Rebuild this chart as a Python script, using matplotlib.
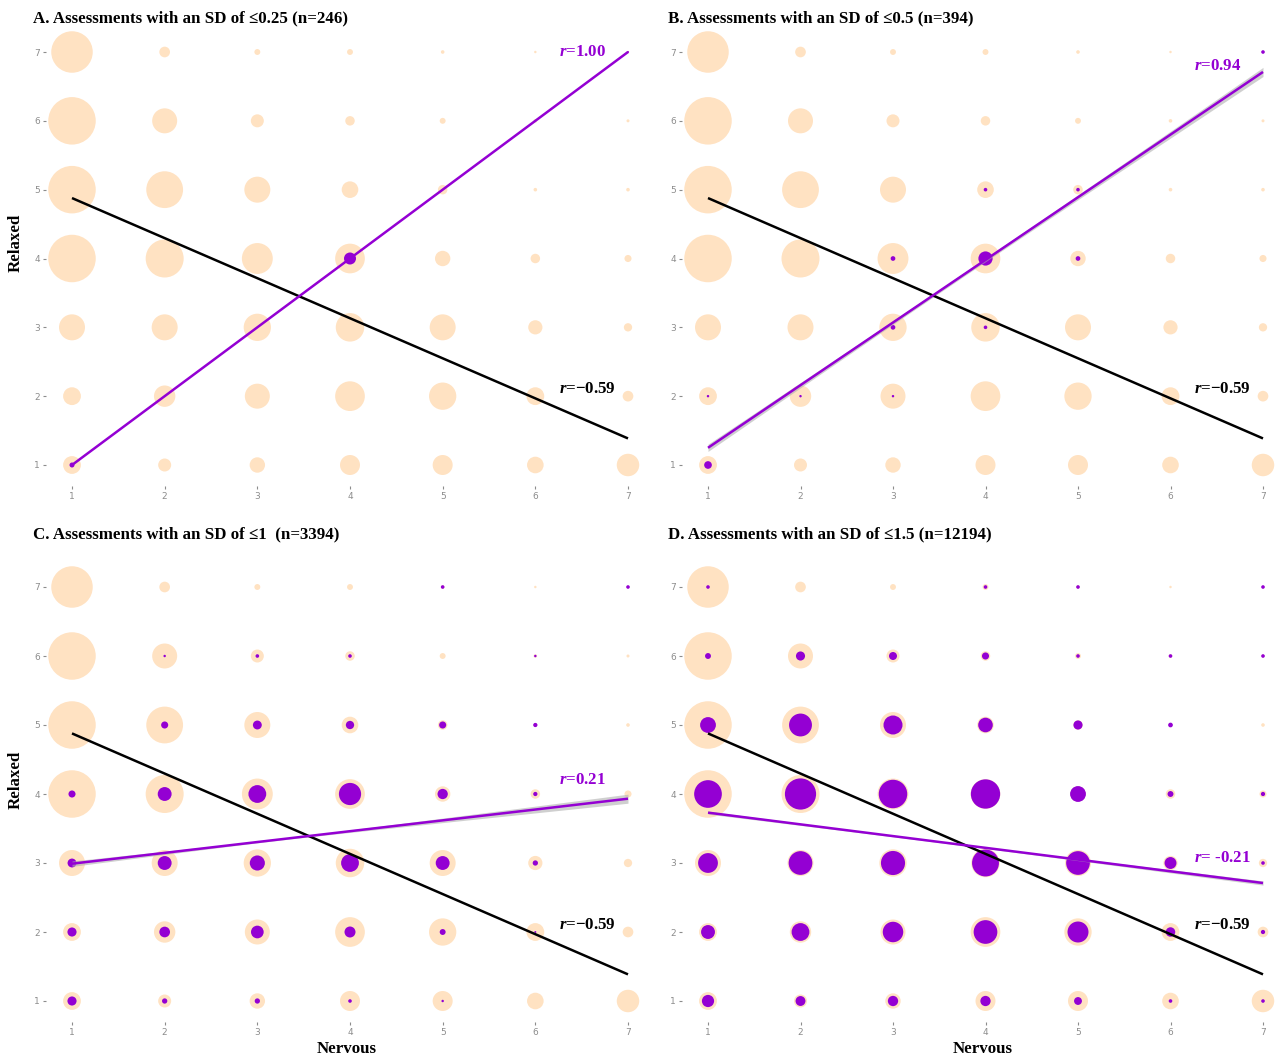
import matplotlib
matplotlib.use("Agg")
import matplotlib.pyplot as plt
import numpy as np

plt.rcParams['font.family'] = ['Liberation Serif', 'DejaVu Serif']
plt.rcParams['mathtext.fontset'] = 'custom'
plt.rcParams['mathtext.it'] = 'Liberation Serif:italic:bold'
plt.rcParams['mathtext.rm'] = 'Liberation Serif:bold'

nervous = [1, 2, 3, 4, 5, 6, 7]
relaxed = [7, 6, 5, 4, 3, 2, 1]   # rows below run top to bottom

# all assessments (background bubbles)
all_counts = [
    [1722, 114, 35, 35, 13, 6, 6],
    [2256, 625, 169, 90, 35, 13, 9],
    [2256, 1354, 676, 276, 90, 13, 13],
    [2256, 1444, 955, 882, 237, 90, 50],
    [676, 676, 745, 812, 676, 202, 69],
    [317, 458, 625, 882, 745, 317, 114],
    [317, 169, 237, 400, 400, 276, 506],
]

# assessments below each SD cut-off
sub_a = [
    [0, 0, 0, 0, 0, 0, 4],
    [0, 0, 0, 0, 0, 0, 0],
    [0, 0, 0, 0, 0, 0, 0],
    [0, 0, 0, 144, 0, 0, 0],
    [0, 0, 0, 0, 0, 0, 0],
    [0, 0, 0, 0, 0, 0, 0],
    [25, 0, 0, 0, 0, 0, 0],
]
sub_b = [
    [0, 0, 0, 0, 0, 0, 13],
    [0, 0, 0, 0, 0, 0, 0],
    [0, 0, 0, 13, 13, 0, 0],
    [0, 0, 22, 202, 22, 0, 0],
    [0, 0, 22, 13, 0, 0, 0],
    [6, 6, 6, 0, 0, 0, 0],
    [59, 0, 0, 0, 0, 0, 0],
]
sub_c = [
    [0, 0, 0, 0, 13, 0, 13],
    [0, 6, 13, 13, 0, 6, 0],
    [0, 50, 79, 69, 50, 18, 0],
    [50, 193, 317, 493, 106, 18, 0],
    [79, 193, 228, 317, 193, 28, 0],
    [83, 114, 161, 121, 35, 4, 0],
    [83, 28, 28, 13, 6, 0, 0],
]
sub_d = [
    [13, 0, 0, 13, 13, 0, 13],
    [35, 83, 64, 50, 13, 13, 13],
    [250, 524, 361, 213, 83, 22, 0],
    [767, 973, 812, 858, 250, 35, 18],
    [392, 562, 581, 724, 562, 142, 13],
    [193, 317, 420, 562, 441, 90, 18],
    [149, 98, 106, 106, 62, 13, 13],
]

titles = [
    "A. Assessments with an SD of \u22640.25 (n=246)",
    "B. Assessments with an SD of \u22640.5 (n=394)",
    "C. Assessments with an SD of \u22641  (n=3394)",
    "D. Assessments with an SD of \u22641.5 (n=12194)",
]
subsets = [sub_a, sub_b, sub_c, sub_d]

# fitted lines: (intercept, slope)
all_fit = (5.46, -0.582)
sub_fits = [(0.0, 1.0), (0.34, 0.91), (2.833, 0.157), (3.90, -0.17)]
# confidence band half-widths: at the centre and growth away from it
sub_ci = [(0.0, 0.0), (0.025, 0.018), (0.012, 0.017), (0.01, 0.008)]
ci_centre = [4.0, 3.6, 3.2, 3.4]

r_all = "\u22120.59"
r_sub = ["1.00", "0.94", "0.21", " -0.21"]
r_sub_y = [7.0, 6.8, 4.2, 3.07]

PEACH = '#FFE2C2'
PURPLE = '#9400D3'
TICK_GREY = '#8c8c8c'
FS = 12.2

W, H = 1282, 1061
fig = plt.figure(figsize=(W / 100, H / 100), dpi=100)

# pixel anchors of x=1, x=7 and y=7, y=1 for each panel
anchors = [
    ((72, 628), (52, 465)),
    ((708, 1263), (52, 465)),
    ((72, 628), (587, 1001)),
    ((708, 1263), (587, 1001)),
]
xlim = (0.72, 7.2)
ylim = (0.70, 7.3)

gx, gy = np.meshgrid(nervous, relaxed)
size_k = 0.72 ** 2
xs = np.linspace(1, 7, 100)

for i, ((x1, x7), (y7, y1)) in enumerate(anchors):
    ppx = (x7 - x1) / 6
    ppy = (y1 - y7) / 6
    left = x1 - (1 - xlim[0]) * ppx
    right = x7 + (xlim[1] - 7) * ppx
    top = y7 - (ylim[1] - 7) * ppy
    bottom = y1 + (1 - ylim[0]) * ppy
    ax = fig.add_axes([left / W, 1 - bottom / H, (right - left) / W, (bottom - top) / H])
    ax.set_xlim(*xlim)
    ax.set_ylim(*ylim)
    for s in ax.spines.values():
        s.set_visible(False)

    ax.scatter(gx.ravel(), gy.ravel(), s=np.array(all_counts).ravel() * size_k,
               color=PEACH, linewidths=0, zorder=1, clip_on=False)
    sub = np.array(subsets[i]).ravel()
    keep = sub > 0
    ax.scatter(gx.ravel()[keep], gy.ravel()[keep], s=sub[keep] * size_k,
               color=PURPLE, linewidths=0, zorder=2, clip_on=False)

    b0, b1 = sub_fits[i]
    yfit = b0 + b1 * xs
    a, g = sub_ci[i]
    if a > 0:
        hw = np.sqrt(a ** 2 + (g * (xs - ci_centre[i])) ** 2)
        ax.fill_between(xs, yfit - hw, yfit + hw, color='#b0b0b0', alpha=0.6,
                        linewidth=0, zorder=3)
    ax.plot(xs, all_fit[0] + all_fit[1] * xs, color='black', lw=1.8, zorder=4,
            solid_capstyle='butt')
    ax.plot(xs, yfit, color=PURPLE, lw=1.8, zorder=5, solid_capstyle='butt')

    ax.text(6.25, r_sub_y[i], "$r$=" + r_sub[i], color=PURPLE, fontsize=FS,
            fontweight='bold', ha='left', va='center', zorder=6)
    ax.text(6.25, 2.1, "$r$=" + r_all, color='black', fontsize=FS,
            fontweight='bold', ha='left', va='center', zorder=6)

    ax.set_xticks(nervous)
    ax.set_yticks(relaxed)
    ax.tick_params(colors=TICK_GREY, labelsize=6.5, length=2.5, width=0.8, pad=2)
    for lab in ax.get_xticklabels() + ax.get_yticklabels():
        lab.set_family('DejaVu Sans')

    tx = 33 if i % 2 == 0 else 668
    ty = 18 if i < 2 else 534
    fig.text(tx / W, 1 - ty / H, titles[i], fontsize=FS, fontweight='bold',
             ha='left', va='center')

for cy in (243, 780):
    fig.text(16 / W, 1 - cy / H, "Relaxed", fontsize=FS, fontweight='bold',
             rotation=90, ha='center', va='center')
for cx in (347, 983):
    fig.text(cx / W, 1 - 1049 / H, "Nervous", fontsize=FS, fontweight='bold',
             ha='center', va='center')

fig.savefig("out.png", dpi=100)
